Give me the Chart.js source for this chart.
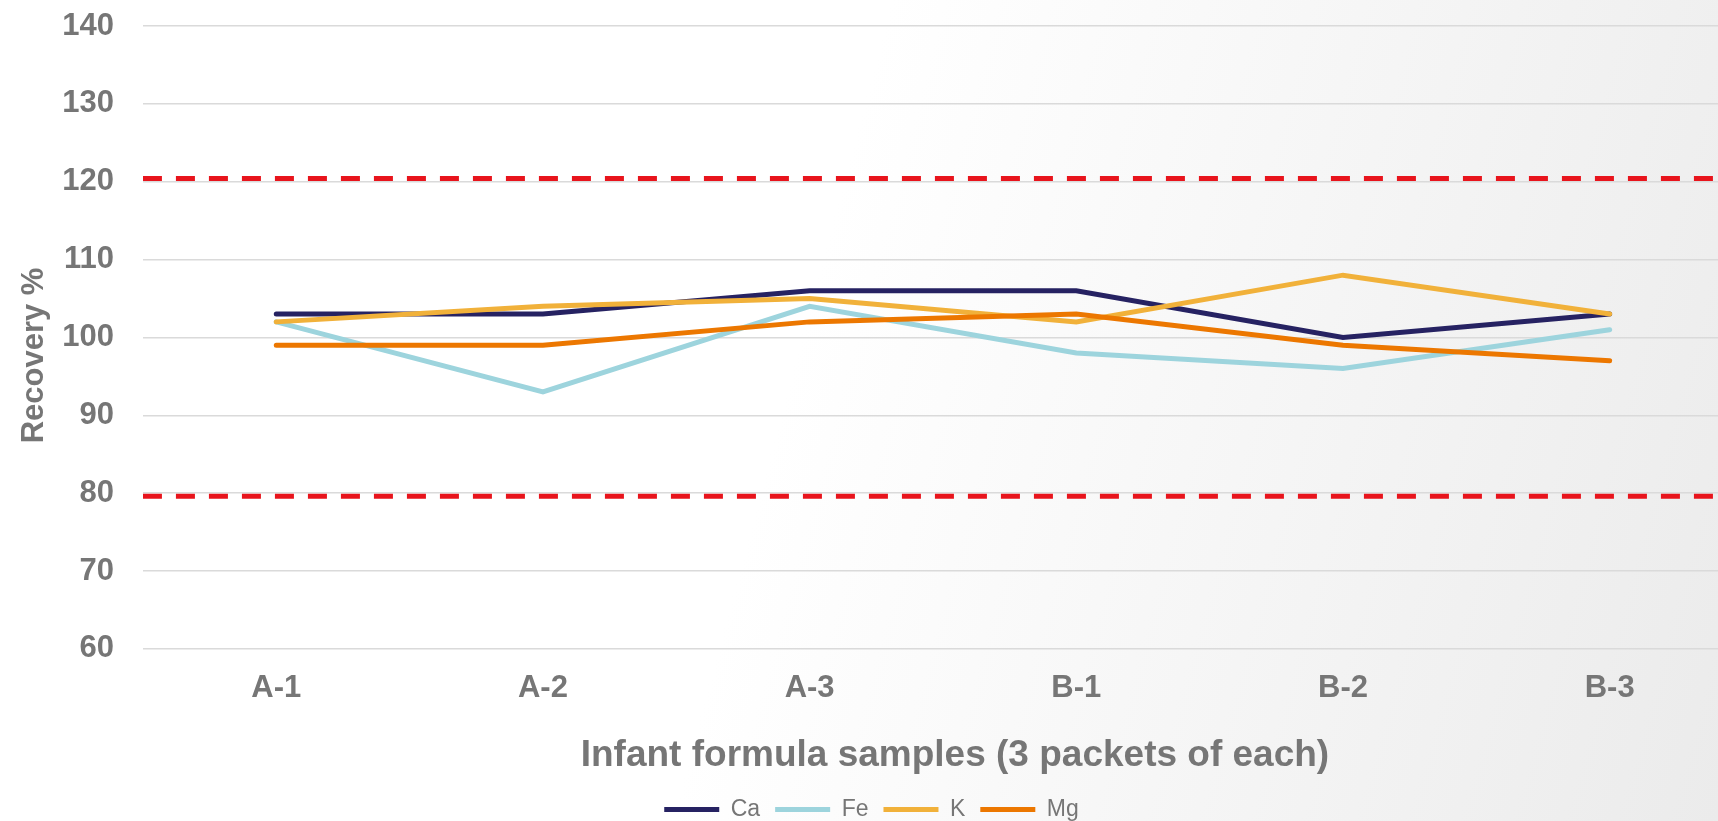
<!DOCTYPE html>
<html>
<head>
<meta charset="utf-8">
<title>Recovery %</title>
<script src="https://cdn.jsdelivr.net/npm/chart.js@4.4.1/dist/chart.umd.min.js"></script>
<style>
  html, body { margin: 0; padding: 0; width: 1718px; height: 821px; overflow: hidden; }
  body { background: linear-gradient(105deg, #ffffff 0%, #ffffff 46%, #ebebeb 100%); }
  #wrap { position: relative; width: 1745px; height: 821px; }
</style>
</head>
<body>
<div id="wrap"><canvas id="chart"></canvas></div>
<script>
// Sample labels (x axis)
const samples = ['A-1', 'A-2', 'A-3', 'B-1', 'B-2', 'B-3'];

// Recovery % per element
const ca = [103, 103, 106, 106, 100, 103];
const fe = [102, 93, 104, 98, 96, 101];
const k  = [102, 104, 105, 102, 108, 103];
const mg = [99, 99, 102, 103, 99, 97];

// Acceptance limits (dashed red lines)
const upperLimit = 120.4;
const lowerLimit = 79.6;

// Y axis range
const yMin = 60;
const yMax = 140;
const yStep = 10;

const grey = '#767676';
const family = "'Liberation Sans', Arial, sans-serif";

function seriesLine(label, data, color, order) {
  return {
    label, data,
    borderColor: color,
    backgroundColor: color,
    borderWidth: 5,
    borderCapStyle: 'round',
    pointRadius: 0,
    pointHoverRadius: 0,
    tension: 0,
    fill: false,
    order
  };
}

function limitLine(value, order) {
  return {
    label: 'limit',
    data: [{ x: 0, y: value }, { x: 1, y: value }],
    xAxisID: 'xLimit',
    borderColor: '#e8141c',
    borderWidth: 5,
    borderDash: [19, 14],
    pointRadius: 0,
    fill: false,
    order
  };
}

// Nudge an axis title away from its default centred spot
function shiftTitle(scale, dx, dy) {
  if (scale._titleShifted) return;
  const draw = scale.drawTitle;
  scale.drawTitle = function () {
    this.ctx.save();
    this.ctx.translate(dx, dy);
    draw.call(this);
    this.ctx.restore();
  };
  scale._titleShifted = true;
}

new Chart(document.getElementById('chart'), {
  type: 'line',
  data: {
    labels: samples,
    datasets: [
      seriesLine('Ca', ca, '#262262', 4),
      seriesLine('Fe', fe, '#9dd4dd', 3),
      seriesLine('K', k, '#f1b13a', 2),
      seriesLine('Mg', mg, '#ec7700', 1),
      limitLine(upperLimit, 6),
      limitLine(lowerLimit, 6)
    ]
  },
  options: {
    responsive: true,
    maintainAspectRatio: false,
    animation: false,
    layout: { padding: { top: 26, right: 2, bottom: -10, left: 0 } },
    plugins: {
      tooltip: { enabled: false },
      legend: {
        position: 'bottom',
        labels: {
          usePointStyle: true,
          pointStyle: 'line',
          pointStyleWidth: 55,
          color: grey,
          padding: 15,
          font: { family, size: 23 },
          filter: item => item.datasetIndex < 4,
          sort: (a, b) => a.datasetIndex - b.datasetIndex
        }
      }
    },
    scales: {
      x: {
        type: 'category',
        offset: true,
        grid: { display: false, drawTicks: false },
        border: { display: false },
        ticks: { color: grey, padding: 21, font: { family, size: 31, weight: 'bold' } },
        title: {
          display: true,
          text: 'Infant formula samples (3 packets of each)',
          color: grey,
          font: { family, size: 37, weight: 'bold' },
          padding: { top: 5.5, bottom: 5 }
        },
        afterFit(scale) { shiftTitle(scale, 12, 0); }
      },
      xLimit: { type: 'linear', display: false, min: 0, max: 1 },
      y: {
        min: yMin,
        max: yMax,
        grid: { color: '#dadada', lineWidth: 1.5, drawTicks: false },
        border: { display: false },
        ticks: { stepSize: yStep, color: grey, padding: 29, font: { family, size: 31, weight: 'bold' } },
        title: {
          display: true,
          text: 'Recovery %',
          color: grey,
          font: { family, size: 31, weight: 'bold' },
          padding: { top: 16, bottom: -20 }
        },
        // the top tick label may overhang the plot; keep the plot top at the layout padding
        afterFit(scale) {
          scale.paddingTop = 0;
          shiftTitle(scale, 0, 18);
        }
      }
    }
  }
});
</script>
</body>
</html>
